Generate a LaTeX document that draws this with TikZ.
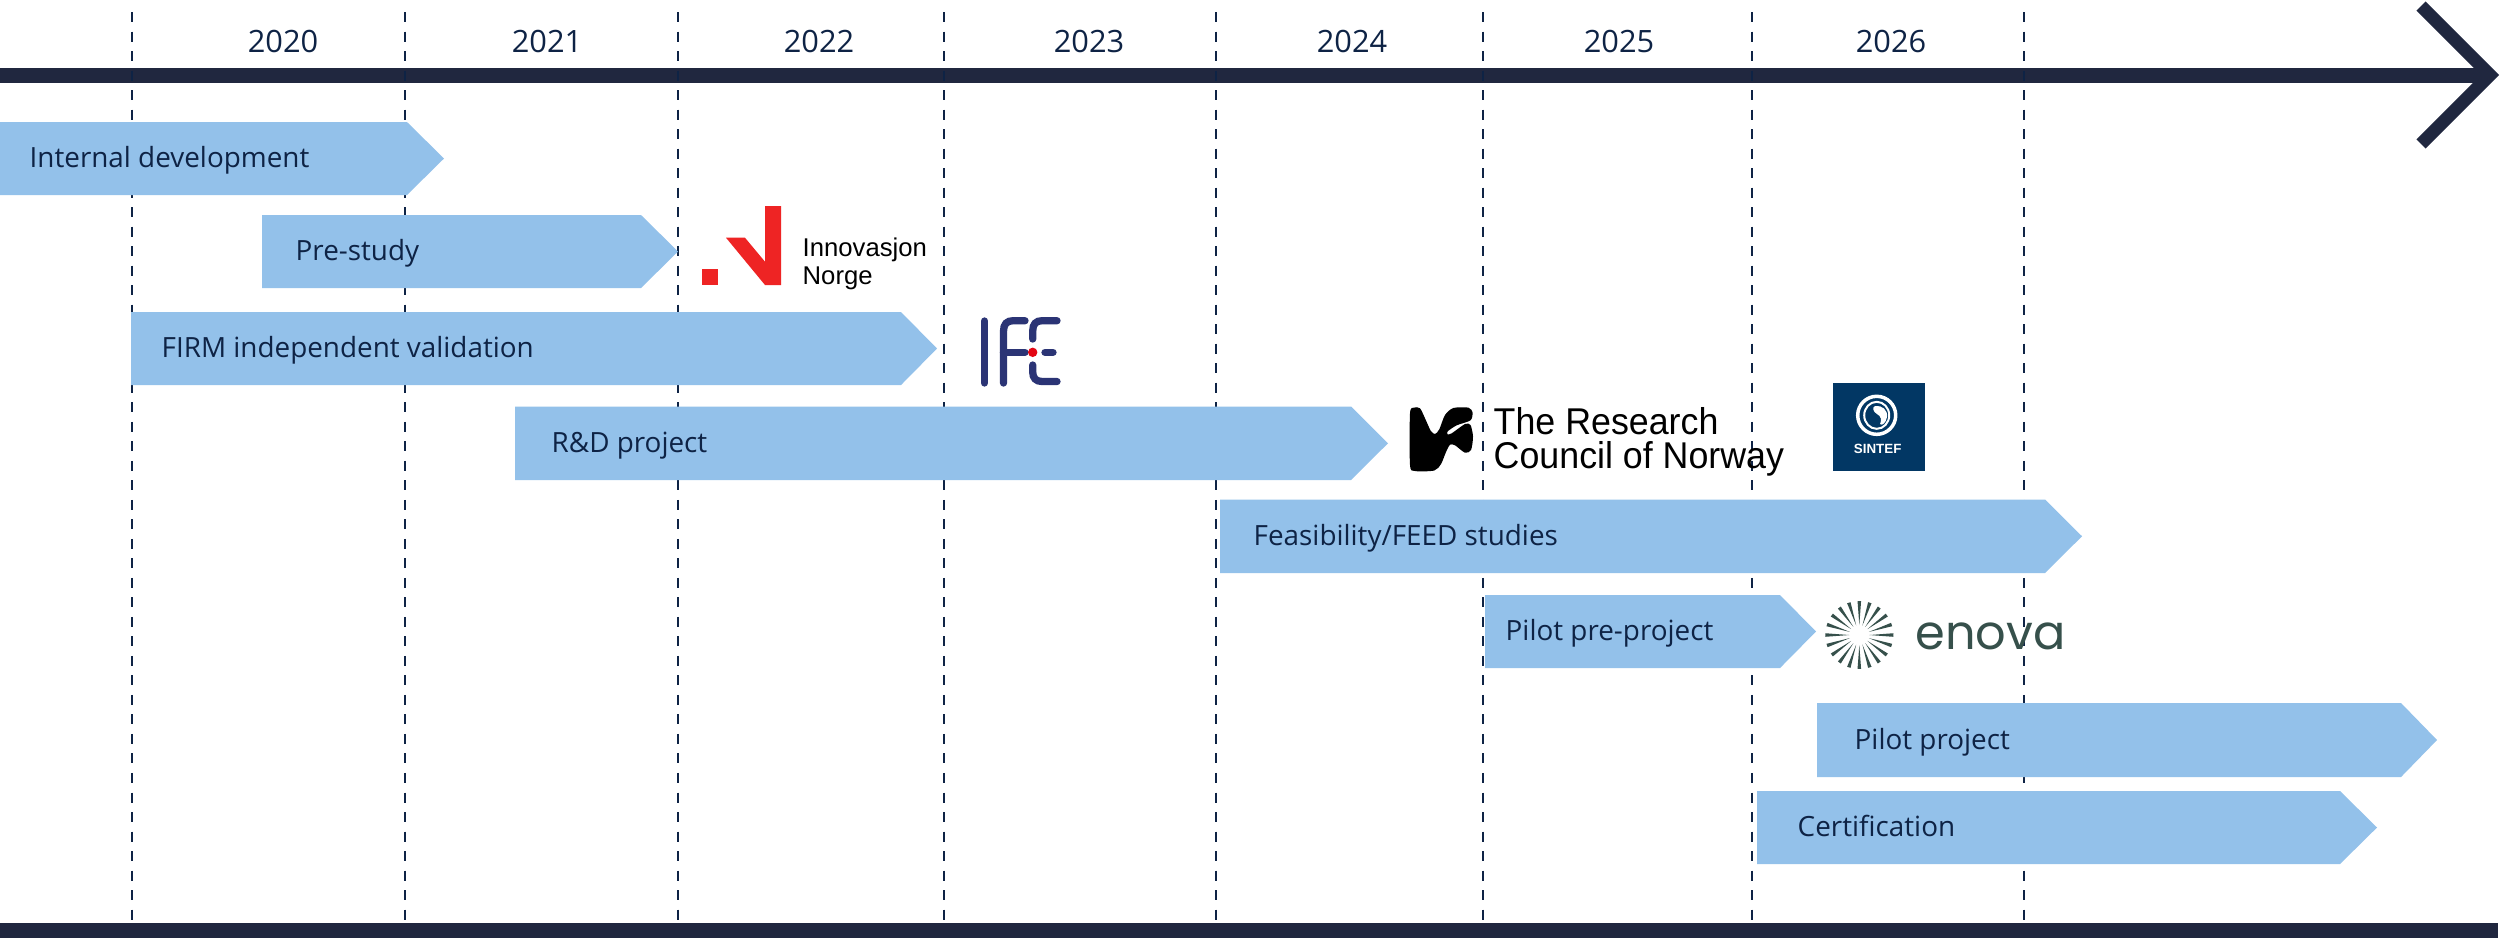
\documentclass[tikz,border=0pt]{standalone}
\usetikzlibrary{calc}
\usepackage{fontspec}
\setmainfont{Open Sans}
\newfontfamily\logofont{Liberation Sans}
\newfontfamily\rcnfont[FakeStretch=0.96]{Liberation Sans}
\newfontfamily\enovafont{Poppins}
\definecolor{barblue}{HTML}{93C1EA}
\definecolor{axisnavy}{HTML}{20273F}
\definecolor{textnavy}{HTML}{0E2345}
\definecolor{innored}{HTML}{EE2424}
\definecolor{ifenavy}{HTML}{2B3475}
\definecolor{ifered}{HTML}{E30613}
\definecolor{enovagreen}{HTML}{36504B}
\definecolor{sintefblue}{HTML}{023764}
\tikzset{
  gridline/.style={draw=textnavy,line width=0.02cm,dash pattern=on 0.1cm off 0.095cm},
  axisline/.style={draw=axisnavy,line width=0.15cm},
  chevron/.style={draw=axisnavy,line width=0.13cm,miter limit=10},
  barshape/.style={fill=barblue,draw=none},
  barlabel/.style={anchor=base west,inner sep=0,text=textnavy,font=\fontsize{7.92pt}{10pt}\selectfont},
  yearlabel/.style={anchor=base,inner sep=0,text=textnavy,font=\fontsize{8.75pt}{10pt}\selectfont},
  innotext/.style={anchor=base west,inner sep=0,text=black,font=\logofont\fontsize{7.3pt}{9pt}\selectfont},
  rcntext/.style={anchor=base west,inner sep=0,text=black,font=\rcnfont\fontsize{10.6pt}{12pt}\selectfont},
  ifestroke/.style={draw=ifenavy,line width=0.073cm,line cap=round},
}
\newcommand{\timebar}[8]{% name, x0, shoulder, tip, ytop, ybot, labelx, text
  \fill[barshape] (#2,#5) -- (#3,#5) -- (#4,{(#5+#6)/2}) -- (#3,#6) -- (#2,#6) -- cycle;
  \node[barlabel] (#1) at (#7,{(#5+#6)/2+9}) {#8};
}
\begin{document}
\begin{tikzpicture}[x=0.01cm,y=-0.01cm]
\useasboundingbox (0,0) rectangle (2500,938);
\fill[white] (0,0) rectangle (2500,938);
% bottom and top axes
\coordinate (axisL) at (0,75);
\coordinate (axisT) at (2490,75);
\coordinate (chevA) at (2421,6);
\coordinate (chevB) at (2421,144);
\draw[axisline] (axisL) -- (axisT);
\draw[chevron] (chevA) -- (axisT) -- (chevB);
\fill[axisnavy] (0,923) rectangle (2498,938);
% vertical year boundaries
\foreach \n/\x in {a/131.5,b/405,c/678,d/944,e/1216,f/1482.5,g/1752,h/2024}{
  \coordinate (top\n) at (\x,12);
  \coordinate (bot\n) at (\x,923);
  \draw[gridline] (top\n) -- (bot\n);
}
% years
\node[yearlabel] (y2020) at (283,52) {2020};
\node[yearlabel] (y2021) at (547,52) {2021};
\node[yearlabel] (y2022) at (819,52) {2022};
\node[yearlabel] (y2023) at (1089,52) {2023};
\node[yearlabel] (y2024) at (1352,52) {2024};
\node[yearlabel] (y2025) at (1619,52) {2025};
\node[yearlabel] (y2026) at (1891,52) {2026};
% bars
\timebar{internal}{0}{407}{444}{122}{195}{29}{Internal development}
\timebar{prestudy}{262}{641}{678}{215}{288}{295}{Pre-study}
\timebar{firm}{131}{901}{937}{312}{385}{161}{FIRM independent validation}
\timebar{rnd}{515}{1351}{1388}{406.5}{480}{551}{R\&D project}
\timebar{feed}{1220}{2045}{2082}{499.5}{573}{1253}{Feasibility/FEED studies}
\timebar{prepilot}{1485}{1780}{1816}{595}{668}{1505}{Pilot pre-project}
\timebar{pilot}{1817}{2401}{2437}{703}{777}{1854}{Pilot project}
\timebar{cert}{1757}{2340}{2377}{791}{864}{1797}{Certification}
% Innovasjon Norge logo
\fill[innored] (702.3,269) rectangle (718.3,285);
\fill[innored] (726,237.7) -- (745,237.7) -- (765,261.7) -- (765,206) -- (781,206) -- (781,285) -- (765,285) -- cycle;
\node[innotext] (inno1) at (802,256) {Innovasjon};
\node[innotext] (inno2) at (802,284) {Norge};
% IFE logo
\draw[ifestroke] (984.5,321) -- (984.5,383);
\draw[ifestroke] (1003.5,383) -- (1003.5,331) .. controls (1003.5,324) and (1007,320.7) .. (1013,320.7) -- (1025,320.7);
\draw[ifestroke] (1003.5,352.3) -- (1025,352.3);
\draw[ifestroke] (1032.7,339) -- (1032.7,331) .. controls (1032.7,324) and (1036,320.7) .. (1042,320.7) -- (1057,320.7);
\draw[ifestroke] (1045,352.3) -- (1053,352.3);
\draw[ifestroke] (1032.7,365) -- (1032.7,372) .. controls (1032.7,378) and (1036,381.5) .. (1042,381.5) -- (1057,381.5);
\fill[ifered] (1032.7,352.3) circle (0.047cm);
% Research Council logo
\fill[black] plot[smooth cycle,tension=0.45] coordinates {
 (1410,413.3) (1414,407.6) (1420,408.3) (1425,418.3) (1430.7,430.7) (1435,434) (1439.3,429.3) (1445,415)
 (1453.3,408) (1468.3,407.6) (1472.5,412.3) (1470.5,420.3) (1456.7,425.3) (1447.7,431.3) (1447.7,434.3)
 (1451.7,433.3) (1465,424) (1470.5,425) (1473,436.7) (1471,450) (1465,452.7) (1455,445.3) (1450,444.7)
 (1446,452) (1441,464) (1434.3,470.5) (1415,471) (1410,465)};
\node[rcntext] (rcn1) at (1493,434.5) {The Research};
\node[rcntext] (rcn2) at (1493,468.5) {Council of Norway};
% SINTEF logo
\fill[sintefblue] (1833,383) rectangle (1925,471);
\draw[white,line width=0.035cm] (1876.7,415.3) ellipse (0.19cm and 0.19cm);
\draw[white,line width=0.02cm] (1876.7,415.3) ellipse (0.125cm and 0.135cm);
\fill[white] (1875,406) .. controls (1882,405) and (1888,410) .. (1887,417) .. controls (1886,423) and (1882,426) .. (1880,424) .. controls (1882,420) and (1881,416) .. (1877,414) .. controls (1873,412) and (1872,407) .. (1875,406) -- cycle;
\node[anchor=center,inner sep=0,text=white,font=\logofont\bfseries\fontsize{3.8pt}{4pt}\selectfont] (sintef) at (1877.7,448.7) {SINTEF};
% Enova logo
\foreach \a in {0,18,...,342}{
  \fill[enovagreen] ($(1859.3,635)+(\a-3:34)$) -- ($(1859.3,635)+(\a+3:34)$) -- ($(1859.3,635)+(\a:10)$) -- cycle;
}
\node[anchor=base west,inner sep=0,text=enovagreen,font=\enovafont\fontsize{13.6pt}{16pt}\selectfont] (enova) at (1915,649) {enova};
\end{tikzpicture}
\end{document}
